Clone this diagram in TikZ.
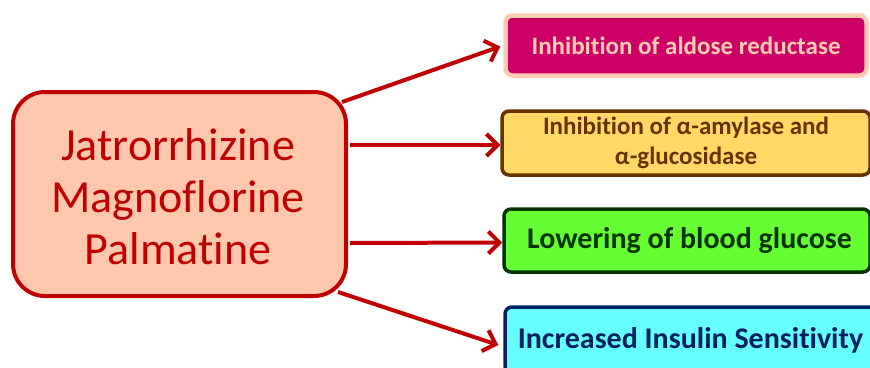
\documentclass[tikz,border=0pt]{standalone}
\usepackage{fontspec}
\setmainfont[Ligatures=NoCommon,RawFeature={-liga;-clig;-dlig}]{Carlito}
\usetikzlibrary{arrows.meta}
\definecolor{dred}{HTML}{C00000}
\definecolor{lfill}{HTML}{FFC7AE}
\definecolor{magf}{HTML}{CC0066}
\definecolor{peach}{HTML}{FFCCB0}
\definecolor{yelf}{HTML}{FFD966}
\definecolor{brn}{HTML}{663300}
\definecolor{grnf}{HTML}{66FF33}
\definecolor{dgrn}{HTML}{003300}
\definecolor{cynf}{HTML}{66FFFF}
\definecolor{navy}{HTML}{002060}
\begin{document}
\begin{tikzpicture}[x=1pt,y=-1pt,
  bx/.style={draw, line width=3.5pt, rounded corners=7pt, align=center, inner sep=0pt, font=\bfseries},
  arr/.style={draw=dred, line width=4pt, -{Straight Barb[length=11pt,width=22pt]}}]
\useasboundingbox (0,0) rectangle (870,367);
\clip (0,0) rectangle (870,367);
\node[draw=dred, fill=lfill, line width=4pt, rounded corners=32pt, minimum width=333pt, minimum height=204pt] (L) at (179.5,194) {};
\node[text=dred, align=center, font=\fontsize{46}{52}\selectfont, inner sep=0pt] (Lt) at (178,197) {Jatrorrhizine\\Magnoflorine\\Palmatine};
\node[bx, draw=peach, fill=magf, text=peach, line width=4.5pt, minimum width=361pt, minimum height=60pt, font=\bfseries\fontsize{25}{30}\selectfont] (b1) at (686,45.5) {Inhibition of aldose reductase};
\node[bx, draw=brn, fill=yelf, text=brn, minimum width=368pt, minimum height=64pt, font=\bfseries\fontsize{25}{30}\selectfont] (b2) at (686,143) {Inhibition of α-amylase and\\α-glucosidase};
\node[bx, draw=dgrn, fill=grnf, text=dgrn, minimum width=366pt, minimum height=63pt] (b3) at (687,240.5) {};
\node[text=dgrn, inner sep=0pt, font=\bfseries\fontsize{30}{34}\selectfont] (b3t) at (689.5,240.5) {Lowering of blood glucose};
\node[bx, draw=navy, fill=cynf, text=navy, minimum width=371pt, minimum height=66pt, font=\bfseries\fontsize{30}{34}\selectfont] (b4) at (690.5,340) {Increased Insulin Sensitivity};
\coordinate (s1) at (342,102);
\coordinate (s2) at (350,145);
\coordinate (s3) at (350,243);
\coordinate (s4) at (338,292);
\draw[arr] (s1) -- ([xshift=-3pt,yshift=-1pt]b1.west);
\draw[arr] (s2) -- ([yshift=-2pt]b2.west);
\draw[arr] (s3) -- ([yshift=-2pt]b3.west);
\draw[arr] (s4) -- ([xshift=-5pt,yshift=-5pt]b4.west);
\end{tikzpicture}
\end{document}
